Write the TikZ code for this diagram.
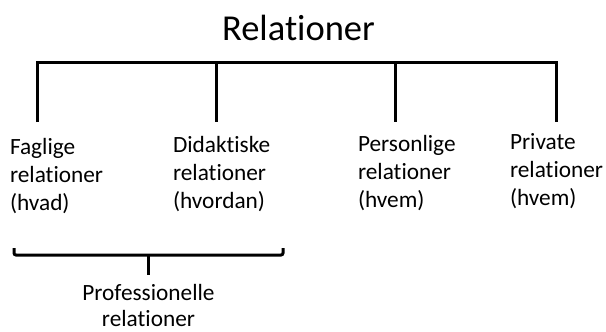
\documentclass[tikz,border=0pt]{standalone}
\usepackage{fontspec}
\setmainfont{Carlito}[Ligatures=NoCommon]
\begin{document}
\begin{tikzpicture}[x=1pt,y=-1pt,
  label/.style={inner sep=0pt,outer sep=0pt,align=left,anchor=base west,
    font=\fontsize{23.3}{28}\selectfont},
  titlestyle/.style={inner sep=0pt,anchor=base,font=\fontsize{36.5}{44}\selectfont},
  bar/.style={line width=3pt,line cap=butt,line join=miter}]
  \useasboundingbox (0,0) rectangle (606,332);

  % title
  \node[titlestyle] (title) at (298.5,40) {Relationer};

  % top bracket
  \coordinate (t1) at (37,62);
  \coordinate (t2) at (216,62);
  \coordinate (t3) at (395,62);
  \coordinate (t4) at (556,62);
  \coordinate (b1) at (37,122);
  \coordinate (b2) at (216,122);
  \coordinate (b3) at (395,122);
  \coordinate (b4) at (556,122);
  \draw[bar] (b1) -- (t1) -- (t4) -- (b4);
  \draw[bar] (t2) -- (b2);
  \draw[bar] (t3) -- (b3);

  % branch labels (anchored at the baseline of their last line)
  \node[label] (fag) at (10,210) {Faglige\\relationer\\(hvad)};
  \node[label] (did) at (173,208) {Didaktiske\\relationer\\(hvordan)};
  \node[label] (per) at (358,207.5) {Personlige\\relationer\\(hvem)};
  \node[label] (pri) at (510,205) {Private\\relationer\\(hvem)};

  % lower bracket grouping the first two
  \coordinate (l1) at (14,248);
  \coordinate (l2) at (14,255);
  \coordinate (l3) at (283,255);
  \coordinate (l4) at (283,248);
  \coordinate (s1) at (148,255);
  \coordinate (s2) at (148,275);
  \draw[bar,rounded corners=2pt] (l1) -- (l2) -- (l3) -- (l4);
  \draw[bar] (s1) -- (s2);

  \node[label,anchor=base,align=center,font=\fontsize{23.3}{25.5}\selectfont] (prof) at (148.5,326) {Professionelle\\relationer};
\end{tikzpicture}
\end{document}
